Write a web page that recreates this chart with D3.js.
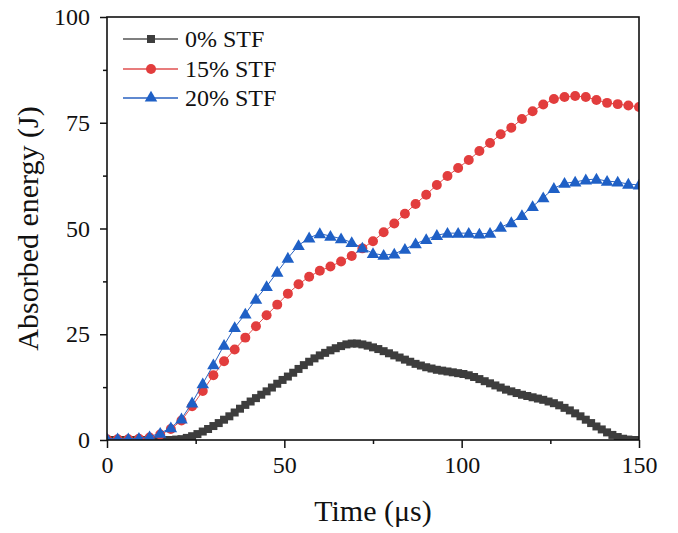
<!DOCTYPE html>
<html>
<head>
<meta charset="utf-8">
<script src="https://cdn.jsdelivr.net/npm/d3@7"></script>
<style>
  html, body { margin: 0; padding: 0; background: #fff; }
  svg text { font-family: "Times New Roman", "Liberation Serif", Tinos, Times, serif; fill: #111; }
</style>
</head>
<body>
<svg id="chart" width="678" height="533"></svg>
<script>
// ---- Data ----
const seriesNames = ["0% STF", "15% STF", "20% STF"];
const xTickValues = [0, 50, 100, 150];
const yTickValues = [0, 25, 50, 75, 100];

// 0% STF sampled every 1.5 µs (0 .. 150)
const timeSTF0 = d3.range(0, 150.001, 1.5);
const energySTF0 = [
  0, 0, 0, 0, 0, 0, 0, 0, 0, 0, 0, 0, 0, 0.1,
  0.2, 0.5, 0.9, 1.4, 2.0, 2.6, 3.3, 4.0, 4.8, 5.6, 6.5, 7.4, 8.3, 9.1, 9.9, 10.7,
  11.5, 12.4, 13.3, 14.2, 15.0, 15.9, 16.8, 17.7, 18.5, 19.3, 20.0, 20.6, 21.2, 21.7,
  22.2, 22.6, 22.8, 22.8, 22.6, 22.3, 21.9, 21.5, 21.0, 20.5, 20.0, 19.5, 19.0, 18.5,
  18.0, 17.6, 17.2, 16.9, 16.6, 16.4, 16.2, 16.0, 15.8, 15.6, 15.3, 14.9, 14.4, 13.9,
  13.4, 12.9, 12.4, 11.9, 11.5, 11.1, 10.7, 10.4, 10.1, 9.8, 9.5, 9.1, 8.7, 8.2,
  7.6, 7.0, 6.3, 5.6, 4.8, 4.0, 3.2, 2.5, 1.8, 1.2, 0.7, 0.3, 0.1, 0, 0
];

// 15% and 20% STF sampled every 3 µs (0 .. 150)
const timeSTF15 = d3.range(0, 150.001, 3);
const energySTF15 = [
  0.2, 0.2, 0.2, 0.3, 0.6, 1.3, 2.6, 4.6, 8.0, 11.6, 15.3, 18.6, 21.4, 24.2, 26.9,
  29.5, 32.0, 34.6, 36.8, 38.6, 40.0, 41.0, 42.2, 43.5, 45.3, 47.0, 49.1, 51.2, 53.5,
  55.8, 58.0, 60.3, 62.4, 64.3, 66.2, 68.3, 70.2, 72.3, 73.8, 75.9, 77.7, 79.3, 80.6,
  81.1, 81.3, 81.1, 80.4, 79.7, 79.4, 79.1, 78.7
];
const timeSTF20 = d3.range(0, 150.001, 3);
const energySTF20 = [
  0.3, 0.3, 0.3, 0.4, 0.8, 1.6, 2.9, 5.0, 8.8, 13.3, 17.8, 22.4, 26.6, 29.8, 33.3,
  36.3, 39.7, 43.0, 46.0, 47.8, 48.8, 48.2, 47.6, 46.7, 45.4, 44.1, 43.7, 44.0, 45.1,
  46.4, 47.4, 48.4, 48.9, 48.9, 48.9, 48.7, 48.9, 50.3, 51.4, 53.1, 55.2, 57.3, 59.5,
  60.7, 61.0, 61.5, 61.7, 61.2, 61.0, 60.5, 60.3
];

// ---- Layout ----
const svg = d3.select("#chart");
const W = 678, H = 533;
const mLeft = 107, mRight = 639, mTop = 17, mBottom = 440;
const FONT = "'Times New Roman', 'Liberation Serif', Tinos, Times, serif";

const x = d3.scaleLinear().domain([0, 150]).range([mLeft, mRight]);
const y = d3.scaleLinear().domain([0, 100]).range([mBottom, mTop]);

svg.append("rect").attr("width", W).attr("height", H).attr("fill", "#fff");

svg.append("defs").append("clipPath").attr("id", "plotclip")
  .append("rect").attr("x", mLeft).attr("y", mTop)
  .attr("width", mRight - mLeft).attr("height", mBottom - mTop);

const styles = [
  { color: "#3d3d3d", line: "#555", symbol: d3.symbolSquare, size: 64 },
  { color: "#e23d3d", line: "#e05050", symbol: d3.symbolCircle, size: 78 },
  { color: "#1f60c6", line: "#2a62c0", symbol: d3.symbolTriangle, size: 68 }
];

const seriesData = [
  timeSTF0.map((t, i) => [t, energySTF0[i]]),
  timeSTF15.map((t, i) => [t, energySTF15[i]]),
  timeSTF20.map((t, i) => [t, energySTF20[i]])
];

const plot = svg.append("g").attr("clip-path", "url(#plotclip)");
const line = d3.line().x(d => x(d[0])).y(d => y(d[1]));

seriesData.forEach((data, si) => {
  const st = styles[si];
  const g = plot.append("g");
  g.append("path").datum(data).attr("d", line)
    .attr("fill", "none").attr("stroke", st.line).attr("stroke-width", 1);
  g.selectAll("path.m").data(data).enter().append("path")
    .attr("class", "m")
    .attr("d", d3.symbol().type(st.symbol).size(st.size))
    .attr("transform", d => `translate(${x(d[0])},${y(d[1]) + (si === 2 ? 1 : 0)})`)
    .attr("fill", st.color);
});

// ---- Axes ----
const xAxis = svg.append("g").attr("transform", `translate(0,${mBottom})`)
  .call(d3.axisBottom(x).tickValues(xTickValues).tickSize(8).tickPadding(8).tickFormat(d3.format("d")));
const xMinor = svg.append("g").attr("transform", `translate(0,${mBottom})`)
  .call(d3.axisBottom(x).tickValues([25, 75, 125]).tickSize(4).tickFormat(""));
const yAxis = svg.append("g").attr("transform", `translate(${mLeft},0)`)
  .call(d3.axisLeft(y).tickValues(yTickValues).tickSize(7).tickPadding(10).tickFormat(d3.format("d")));
const yMinor = svg.append("g").attr("transform", `translate(${mLeft},0)`)
  .call(d3.axisLeft(y).tickValues([12.5, 37.5, 62.5, 87.5]).tickSize(4).tickFormat(""));

[xAxis, xMinor, yAxis, yMinor].forEach(a => {
  a.attr("font-family", FONT);
  a.selectAll(".domain").remove();
  a.selectAll(".tick line").attr("stroke", "#111").attr("stroke-width", 1.5);
  a.selectAll(".tick text").attr("font-family", FONT).style("font-family", FONT)
    .style("font-size", "24px").attr("fill", "#222");
});

// frame
svg.append("rect").attr("x", mLeft).attr("y", mTop)
  .attr("width", mRight - mLeft).attr("height", mBottom - mTop)
  .attr("fill", "none").attr("stroke", "#111").attr("stroke-width", 1.6);

// ---- Axis titles ----
svg.append("text").attr("x", (mLeft + mRight) / 2).attr("y", 521)
  .attr("text-anchor", "middle").style("font-family", FONT).style("font-size", "30px").text("Time (\u03bcs)");
svg.append("text").attr("transform", `translate(38,${(mTop + mBottom) / 2}) rotate(-90)`)
  .attr("text-anchor", "middle").style("font-family", FONT).style("font-size", "30px").text("Absorbed energy (J)");

// ---- Legend ----
const legend = svg.append("g");
const legendRows = [39, 69, 98];
seriesNames.forEach((name, i) => {
  const st = styles[i];
  const yy = legendRows[i];
  legend.append("line").attr("x1", 123).attr("x2", 178).attr("y1", yy).attr("y2", yy)
    .attr("stroke", st.line).attr("stroke-width", 1.5);
  legend.append("path").attr("d", d3.symbol().type(st.symbol).size(st.size)())
    .attr("transform", `translate(151,${yy})`).attr("fill", st.color);
  legend.append("text").attr("x", 185).attr("y", yy + 8)
    .style("font-family", FONT).style("font-size", "24px").text(name);
});
</script>
</body>
</html>
